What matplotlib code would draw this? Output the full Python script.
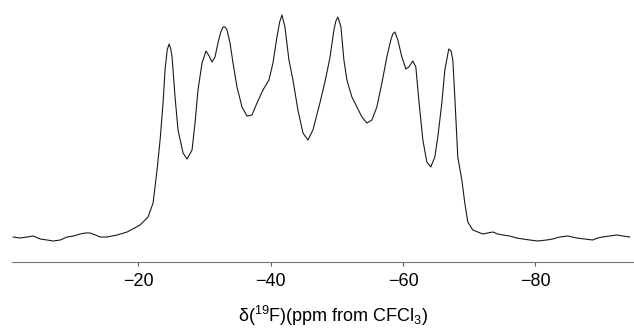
import matplotlib
matplotlib.use("Agg")
import matplotlib.pyplot as plt

plt.rcParams['font.family'] = ['Liberation Sans', 'DejaVu Sans']
plt.rcParams['mathtext.fontset'] = 'custom'
plt.rcParams['mathtext.rm'] = 'Liberation Sans'
plt.rcParams['mathtext.default'] = 'regular'

# 19F NMR spectrum (intensity in arbitrary units)
shift_ppm = [
    -1.08, -2.13, -3.19, -4.10, -5.16, -6.20, -7.12, -8.20, -9.23, -10.20,
    -11.20, -12.00, -12.71, -13.50, -14.22, -15.27, -16.78,
    -18.29, -20.26, -21.46, -22.22, -22.82, -23.28, -23.73, -24.03, -24.35, -24.64,
    -24.90, -25.09, -25.54, -25.99, -26.75, -27.35, -28.11, -28.56, -29.01, -29.62,
    -30.22, -30.70, -31.13, -31.58, -32.03, -32.40, -32.79, -33.10, -33.39, -33.85,
    -34.30, -34.90, -35.66, -36.41, -37.17, -37.92, -38.83, -39.73, -40.34, -40.94,
    -41.35, -41.70, -42.15, -42.75, -43.36, -44.11, -44.87, -45.62, -46.38, -47.43,
    -48.19, -48.94, -49.55, -49.85, -50.15, -50.61, -51.06, -51.51, -52.27, -53.02,
    -53.78, -54.53, -55.29, -56.04, -56.80, -57.55, -58.15, -58.45, -58.76, -59.21,
    -59.82, -60.42, -60.87, -61.48, -61.93, -62.38, -62.99, -63.59, -64.19, -64.80,
    -65.25, -65.86, -66.31, -66.91, -67.25, -67.52, -67.82, -68.27, -68.88, -69.33,
    -69.78, -70.54, -71.30, -72.05, -72.80, -73.56, -74.30, -75.07, -76.10, -77.18,
    -78.10, -79.14, -80.35, -81.71, -82.60, -83.67, -84.90, -86.24, -87.50, -88.65,
    -89.40, -90.16, -91.20, -92.28, -93.20, -94.24,
]
intensity = [
    25, 24, 25, 26, 23, 22, 21, 22, 25, 26,
    28, 29, 29, 27, 25, 25, 27,
    30, 37, 45, 59, 92, 122, 159, 192, 212, 218,
    213, 205, 165, 132, 109, 103, 112, 139, 172, 199,
    211, 206, 200, 205, 219, 229, 235, 235, 232, 219,
    199, 175, 155, 146, 147, 159, 172, 182, 199, 225,
    240, 247, 235, 202, 182, 152, 129, 122, 132, 159,
    180, 204, 232, 241, 245, 235, 202, 182, 165, 155,
    145, 139, 142, 155, 179, 205, 222, 228, 230, 222,
    205, 193, 195, 201, 195, 162, 122, 100, 95, 105,
    125, 159, 192, 213, 211, 202, 165, 105, 82, 59,
    40, 32, 30, 28, 29, 30, 28, 27, 26, 24,
    23, 22, 21, 22, 23, 25, 26, 24, 23, 22,
    24, 25, 26, 27, 26, 25,
]
tick_ppm = [-20, -40, -60, -80]
tick_labels = ['\u221220', '\u221240', '\u221260', '\u221280']

fig = plt.figure(figsize=(6.34, 3.28), dpi=100)
ax = fig.add_axes([12 / 634, 66 / 328, 622 / 634, 262 / 328])

ax.plot(shift_ppm, intensity, color='#1a1a1a', linewidth=0.8)

ax.set_xlim(-0.9, -94.9)
ax.set_ylim(0, 262)

for side in ['left', 'right', 'top']:
    ax.spines[side].set_visible(False)
ax.spines['bottom'].set_color('#777777')
ax.spines['bottom'].set_linewidth(0.8)

ax.set_xticks(tick_ppm)
ax.set_xticklabels(tick_labels)
ax.tick_params(axis='x', direction='out', length=3, width=0.8,
               color='#555555', labelsize=13, pad=5)
ax.set_yticks([])

fig.text(333 / 634, 1 - 316 / 328, '\u03b4($^{19}$F)(ppm from CFCl$_3$)',
         ha='center', va='center', fontsize=13)

fig.savefig('out.png', dpi=100)
